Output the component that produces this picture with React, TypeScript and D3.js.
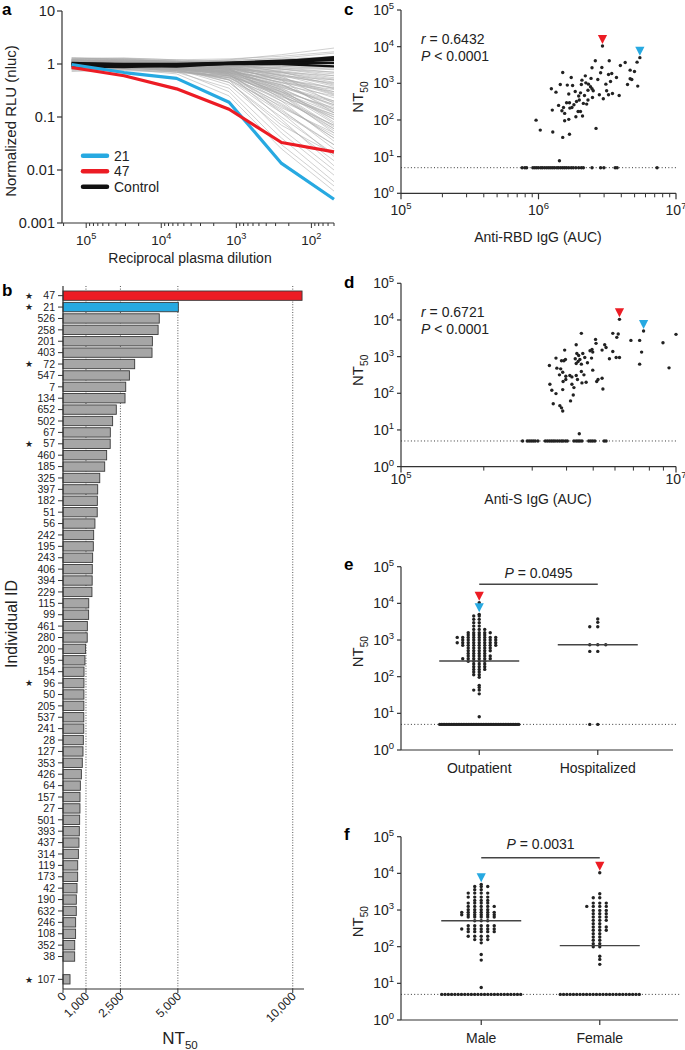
import React, { useEffect } from "react";
import * as d3 from "d3";

const FONT = "'Liberation Sans', Arial, Helvetica, sans-serif";
const RED = "#ec1c24";
const BLUE = "#27a9e1";
const INK = "#222";
const AXIS = "#333";
const LOD = 5;

// ---- a: neutralization curves ----
const aDilutions = [156250, 31250, 6250, 1250, 250, 50];
const aCurve21 = [0.97, 0.69, 0.535, 0.19, 0.0133, 0.0028];
const aCurve47 = [0.86, 0.6, 0.34, 0.14, 0.033, 0.022];
const aControlCurves = [
  [1.05, 0.98, 0.95, 1.05, 1.12, 1.35],
  [0.95, 0.92, 0.9, 1.02, 1.08, 1.2],
  [1.0, 0.95, 0.98, 1.04, 1.05, 1.05],
  [0.9, 0.88, 0.95, 1.0, 1.0, 0.9],
  [1.02, 1.0, 1.0, 1.06, 1.15, 1.25],
];
const aGrayCurves = [
  [1.2, 1.25, 1.1, 1.2, 1.5, 2.0],
  [1.1, 1.15, 1.05, 1.15, 1.3, 1.6],
  [1.0, 1.1, 1.0, 1.1, 1.2, 1.4],
  [0.9, 1.0, 0.95, 1.05, 1.1, 1.2],
  [1.3, 1.2, 1.1, 1.0, 0.9, 0.85],
  [1.1, 1.0, 1.0, 0.95, 0.8, 0.7],
  [0.95, 1.0, 0.9, 0.85, 0.6, 0.5],
  [1.2, 1.1, 1.0, 0.9, 0.5, 0.35],
  [1.0, 0.95, 0.9, 0.8, 0.4, 0.25],
  [0.85, 0.9, 0.85, 0.7, 0.3, 0.15],
  [1.1, 1.05, 0.95, 0.75, 0.25, 0.1],
  [0.9, 0.85, 0.8, 0.6, 0.2, 0.07],
  [1.0, 1.0, 0.9, 0.65, 0.15, 0.05],
  [1.2, 1.1, 1.0, 0.7, 0.12, 0.03],
  [0.8, 0.85, 0.75, 0.5, 0.1, 0.02],
  [1.05, 1.0, 0.85, 0.45, 0.08, 0.015],
  [0.95, 0.9, 0.8, 0.4, 0.06, 0.01],
  [1.1, 1.0, 0.9, 0.5, 0.05, 0.008],
  [0.9, 0.9, 0.7, 0.35, 0.04, 0.006],
  [1.0, 0.95, 0.75, 0.3, 0.03, 0.005],
  [0.85, 0.8, 0.65, 0.25, 0.025, 0.004],
  [1.15, 1.1, 0.95, 0.8, 0.35, 0.12],
  [1.0, 1.05, 0.95, 0.9, 0.7, 0.45],
  [0.9, 0.95, 0.9, 0.8, 0.55, 0.3],
  [1.25, 1.2, 1.1, 1.0, 0.8, 0.6],
  [1.05, 1.1, 1.05, 1.0, 0.95, 0.9],
  [0.8, 0.85, 0.8, 0.75, 0.45, 0.2],
  [0.75, 0.8, 0.7, 0.55, 0.18, 0.04],
  [1.3, 1.25, 1.15, 0.85, 0.22, 0.06],
  [0.95, 0.9, 0.85, 0.6, 0.28, 0.09],
  [1.1, 1.1, 1.0, 0.95, 0.6, 0.18],
  [1.0, 0.95, 0.9, 0.85, 0.5, 0.12],
  [0.9, 0.85, 0.75, 0.55, 0.14, 0.025],
  [1.15, 1.1, 1.0, 0.65, 0.09, 0.012],
  [0.85, 0.9, 0.8, 0.45, 0.07, 0.02],
  [1.05, 1.0, 0.95, 0.7, 0.2, 0.035],
  [0.95, 1.0, 1.0, 0.9, 0.75, 0.55],
  [1.2, 1.15, 1.1, 1.05, 1.0, 1.1],
  [1.0, 0.9, 0.8, 0.7, 0.4, 0.16],
  [0.9, 0.9, 0.85, 0.75, 0.33, 0.08],
  [0.8, 0.75, 0.7, 0.6, 0.3, 0.1],
  [1.1, 1.05, 1.0, 0.85, 0.42, 0.14],
  [0.95, 0.95, 0.85, 0.5, 0.16, 0.045],
  [1.0, 1.0, 0.95, 0.85, 0.65, 0.38],
  [0.85, 0.85, 0.8, 0.7, 0.5, 0.26],
  [1.15, 1.2, 1.15, 1.1, 1.05, 1.0],
  [0.9, 0.9, 0.8, 0.55, 0.22, 0.07],
  [1.05, 1.05, 0.95, 0.8, 0.26, 0.05],
  [1.0, 1.05, 1.0, 0.95, 0.85, 0.7],
  [0.88, 0.92, 0.88, 0.82, 0.62, 0.42],
  [1.08, 1.0, 0.92, 0.72, 0.36, 0.19],
  [0.97, 0.93, 0.84, 0.62, 0.24, 0.11],
  [1.12, 1.08, 1.02, 0.88, 0.48, 0.23],
  [0.82, 0.86, 0.78, 0.64, 0.34, 0.13],
  [1.02, 0.98, 0.88, 0.58, 0.13, 0.03],
  [0.92, 0.96, 0.92, 0.86, 0.68, 0.5],
  [1.25, 1.3, 1.2, 1.25, 1.4, 1.7],
  [1.15, 1.2, 1.12, 1.18, 1.25, 1.35],
  [0.78, 0.82, 0.76, 0.68, 0.4, 0.17],
  [0.72, 0.78, 0.72, 0.6, 0.26, 0.06],
  [1.3, 1.28, 1.2, 1.05, 0.7, 0.4],
  [1.18, 1.12, 1.05, 0.92, 0.55, 0.28],
  [0.98, 1.02, 0.96, 0.78, 0.3, 0.075],
  [0.88, 0.86, 0.76, 0.52, 0.12, 0.018],
  [1.06, 1.02, 0.9, 0.62, 0.17, 0.04],
  [0.94, 0.9, 0.82, 0.68, 0.38, 0.2],
  [1.22, 1.16, 1.08, 0.96, 0.72, 0.52],
  [0.83, 0.88, 0.84, 0.8, 0.7, 0.6],
  [1.04, 1.08, 1.06, 1.02, 0.98, 0.98],
  [0.9, 0.94, 0.92, 0.9, 0.85, 0.78],
  [1.12, 1.06, 0.96, 0.78, 0.44, 0.3],
  [0.96, 0.92, 0.86, 0.74, 0.45, 0.33],
  [1.0, 0.97, 0.9, 0.66, 0.32, 0.14],
  [0.86, 0.82, 0.74, 0.57, 0.27, 0.11],
  [1.14, 1.1, 1.04, 0.92, 0.62, 0.34],
  [0.8, 0.83, 0.79, 0.72, 0.52, 0.36],
  [1.08, 1.12, 1.08, 1.0, 0.9, 0.8],
  [0.93, 0.98, 0.96, 0.92, 0.8, 0.65],
  [1.18, 1.14, 1.04, 0.82, 0.32, 0.09],
  [0.99, 0.96, 0.88, 0.7, 0.27, 0.065],
  [0.87, 0.9, 0.83, 0.66, 0.23, 0.055],
  [1.03, 1.0, 0.93, 0.77, 0.37, 0.17],
  [0.91, 0.88, 0.8, 0.64, 0.29, 0.12],
  [1.09, 1.04, 0.97, 0.83, 0.52, 0.27],
  [0.84, 0.87, 0.82, 0.76, 0.58, 0.44],
  [1.16, 1.18, 1.12, 1.08, 1.02, 1.15],
];
const aYTicks = [10, 1, 0.1, 0.01, 0.001];
const aYLabels = ["10", "1", "0.1", "0.01", "0.001"];
const aLegend = [
  { label: "21", color: BLUE },
  { label: "47", color: RED },
  { label: "Control", color: "#111" },
];

// ---- b: NT50 per individual ----
const bIds = [
  47, 21, 526, 258, 201, 403, 72, 547, 7, 134, 652, 502, 67, 57, 460, 185, 325, 397, 182, 51,
  56, 242, 195, 243, 406, 394, 229, 115, 99, 461, 280, 200, 95, 154, 96, 50, 205, 537, 241, 28,
  127, 353, 426, 64, 157, 27, 501, 393, 437, 314, 119, 173, 42, 190, 632, 246, 108, 352, 38, 107,
];
const bValues = [
  10405, 5020, 4190, 4140, 3890, 3875, 3120, 2890, 2730, 2700, 2320, 2160, 2060, 2055, 1900, 1815,
  1600, 1510, 1495, 1490, 1390, 1335, 1320, 1290, 1275, 1270, 1260, 1120, 1115, 1060, 1055, 985,
  955, 915, 912, 910, 908, 905, 903, 885, 870, 840, 800, 755, 740, 738, 725, 710, 695, 670, 640,
  638, 610, 580, 578, 550, 548, 510, 508, 305,
];
const bStarred = [47, 21, 72, 57, 96, 107];
const bGrid = [1000, 2500, 5000, 10000];
const bTicks = [0, 1000, 2500, 5000, 10000];

// ---- c: anti-RBD IgG vs NT50 ----
const cPoints = [
  [2.59e6, 4110], [3.27e6, 4110], [3.94e6, 3070], [4.27e6, 3700], [5.21e6, 3780], [1.5e6, 1980],
  [2.45e6, 2650], [2.89e6, 2700], [2.83e6, 1940], [2.19e6, 1600], [4.64e6, 2290], [4.99e6, 2100],
  [1.73e6, 1445], [2.07e6, 1220], [2.41e6, 1360], [2.7e6, 1275], [3.23e6, 1745], [3.41e6, 1860],
  [3.69e6, 1445], [3.34e6, 1125], [3.09e6, 950], [4.64e6, 1330], [4.77e6, 1275], [5.27e6, 840],
  [4.44e6, 930], [1.44e6, 930], [1.62e6, 895], [1.77e6, 875], [2.05e6, 930], [2.21e6, 1030],
  [2.31e6, 950], [2.39e6, 805], [2.45e6, 710], [2.5e6, 625], [2.29e6, 650], [1.24e6, 710],
  [1.34e6, 575], [1.66e6, 510], [1.85e6, 600], [2.02e6, 550], [1.96e6, 450], [2.16e6, 465],
  [2.77e6, 490], [2.96e6, 380], [3.13e6, 625], [3.23e6, 490], [3.45e6, 530], [3.86e6, 465],
  [2.29e6, 350], [2.47e6, 410], [1.4e6, 250], [1.52e6, 220], [1.6e6, 295], [1.68e6, 295],
  [1.75e6, 220], [1.81e6, 260], [1.89e6, 320], [1.98e6, 350], [2.12e6, 283], [2.24e6, 271],
  [1.26e6, 186], [1.48e6, 179], [1.55e6, 151], [1.69e6, 211], [1.94e6, 171], [2.02e6, 171],
  [2.09e6, 128], [1.87e6, 122], [1.66e6, 104], [1.55e6, 95], [9.6e5, 99], [1.03e6, 53],
  [1.27e6, 47], [1.5e6, 33.5], [1.68e6, 41], [2.62e6, 59], [1.42e6, 7.7],
];
const cLowAuc = [
  7.6e5, 7.96e5, 8.2e5, 9.1e5, 9.4e5, 9.7e5, 1.0e6, 1.04e6, 1.07e6, 1.11e6, 1.15e6, 1.19e6,
  1.23e6, 1.27e6, 1.31e6, 1.36e6, 1.4e6, 1.45e6, 1.5e6, 1.55e6, 1.6e6, 1.66e6, 1.73e6, 1.79e6,
  1.87e6, 1.96e6, 2.05e6, 2.12e6, 2.45e6, 2.83e6, 2.99e6, 3.61e6, 3.73e6, 7.28e6,
];
const cRed = [2.92e6, 10405];
const cBlue = [5.46e6, 5020];
const cStats = ["0.6432", "< 0.0001"];

// ---- d: anti-S IgG vs NT50 ----
const dPoints = [
  [2.05e6, 4310], [3.47e6, 4310], [3.8e6, 4130], [3.71e6, 3350], [4.7e6, 2770], [5.44e6, 2770],
  [8.04e6, 2390], [1.0e7, 4050], [2.6e6, 2950], [2.62e6, 2300], [3.03e6, 2110], [3.1e6, 1780],
  [1.88e6, 2110], [2.45e6, 1570], [2.37e6, 1445], [2.48e6, 1330], [2.9e6, 1505], [3.47e6, 1385],
  [3.67e6, 950], [3.88e6, 950], [3.28e6, 873], [5.62e6, 1330], [5.44e6, 624], [8.9e6, 494],
  [1.55e6, 1505], [1.9e6, 1220], [1.96e6, 1075], [2.1e6, 1220], [2.17e6, 950], [2.0e6, 836],
  [1.94e6, 738], [1.88e6, 650], [2.05e6, 624], [2.27e6, 678], [2.43e6, 910], [1.34e6, 910],
  [1.47e6, 769], [1.53e6, 769], [1.57e6, 836], [1.85e6, 873], [1.2e6, 573], [1.36e6, 484],
  [1.45e6, 464], [1.5e6, 376], [1.42e6, 318], [1.58e6, 292], [1.69e6, 305], [1.75e6, 280],
  [1.88e6, 305], [1.92e6, 237], [1.58e6, 237], [1.51e6, 209], [1.75e6, 177], [1.81e6, 143],
  [2.07e6, 192], [2.22e6, 200], [2.71e6, 237], [2.9e6, 258], [2.65e6, 209], [2.48e6, 427],
  [2.94e6, 131], [1.21e6, 177], [1.25e6, 121], [1.34e6, 98], [1.5e6, 126], [1.79e6, 90],
  [1.71e6, 62], [1.28e6, 52], [1.43e6, 46], [1.47e6, 40], [1.5e6, 33], [2.14e6, 318],
  [2.05e6, 393], [1.98e6, 7.9],
];
const dLowAuc = [
  7.66e5, 8.28e5, 8.56e5, 8.85e5, 9.15e5, 9.46e5, 9.9e5, 1.12e6, 1.16e6, 1.2e6, 1.24e6, 1.28e6,
  1.32e6, 1.37e6, 1.42e6, 1.47e6, 1.51e6, 1.57e6, 1.62e6, 1.81e6, 1.88e6, 1.94e6, 2.0e6, 2.07e6,
  2.32e6, 2.4e6, 2.48e6, 2.57e6, 3.0e6, 3.1e6,
];
const dRed = [3.88e6, 10405];
const dBlue = [5.81e6, 5020];
const dStats = ["0.6721", "< 0.0001"];
const dMinorTicks = [4e5, 9e5, 1.6e6, 2.5e6, 3.6e6, 4.9e6, 6.4e6, 8.1e6];

// ---- e: outpatient vs hospitalized ----
const eGroups = ["Outpatient", "Hospitalized"];
const eOutpatient = [
  10405, 5020,
  4500, 4500, 3660, 3660, 2970, 2970, 2400, 2400,
  1950, 1950, 1950, 1585, 1585, 1585, 1585, 1585,
  1370, 1370, 1370, 1370,
  1180, 1180, 1180, 1180, 1180, 1180, 1180, 1180,
  1000, 1000, 1000, 1000, 1000, 1000, 1000,
  845, 845, 845, 845, 845, 845, 845, 845,
  715, 715, 715, 715, 715, 715, 715,
  604, 604, 604, 604, 604,
  511, 511, 511, 511, 511,
  432, 432, 432, 432,
  366, 366, 366, 366, 366,
  309, 309, 309, 309, 309, 309,
  262, 262, 262, 262,
  221, 221, 221, 187, 187, 187, 158, 158, 158,
  134, 134, 113, 113, 96, 58, 51, 43, 43, 34, 8.1,
  5, 5, 5, 5, 5, 5, 5, 5, 5, 5, 5, 5,
  5, 5, 5, 5, 5, 5, 5, 5, 5, 5, 5, 5,
  5, 5, 5, 5, 5, 5, 5, 5, 5, 5, 5, 5,
  5, 5, 5, 5, 5, 5, 5, 5, 5, 5, 5, 5,
];
const eHospitalized = [3730, 3030, 2300, 2300, 745, 745, 745, 490, 490, 5, 5];
const eMedians = [267, 741];
const eP = "0.0495";

// ---- f: male vs female ----
const fGroups = ["Male", "Female"];
const fMale = [
  5020, 4390, 4390, 4390, 3560, 3560,
  2890, 2890, 2890, 2890, 2250, 2250, 2250, 2250,
  1830, 1830, 1830, 1545, 1545, 1545, 1545,
  1255, 1255, 1255, 1255, 1255, 1020, 1020, 1020, 1020,
  863, 863, 863, 863, 863, 863, 745, 745, 745, 745, 745, 745,
  644, 644, 644, 644, 644, 512, 512, 512,
  374, 374, 374, 374, 374, 304, 304, 304, 304, 304, 304,
  257, 257, 257, 257, 257, 192, 192, 192, 192, 156, 156, 156,
  127, 61, 43, 7.7,
  5, 5, 5, 5, 5, 5, 5, 5, 5, 5, 5, 5, 5,
  5, 5, 5, 5, 5, 5, 5, 5, 5, 5, 5, 5,
];
const fFemale = [
  10405, 2770, 2160, 2160, 1545, 1545, 1545, 1255, 1255, 1255, 1255,
  977, 977, 977, 795, 795, 795, 644, 644, 644, 523, 523, 523,
  425, 425, 344, 344, 344, 280, 280, 280, 227, 227, 184, 184,
  150, 150, 121, 121, 99, 99, 55, 45, 33,
  5, 5, 5, 5, 5, 5, 5, 5, 5, 5, 5, 5, 5,
  5, 5, 5, 5, 5, 5, 5, 5, 5, 5, 5, 5,
];
const fMedians = [512, 107];
const fP = "0.0031";

function Pow10({ x, y, exp, anchor = "middle", size = 14 }: any) {
  return (
    <text x={x} y={y} textAnchor={anchor} fontSize={size} fill={INK}>
      10<tspan dy={-size * 0.42} fontSize={size * 0.68}>{exp}</tspan>
    </text>
  );
}

function NT50({ x, y, size = 15, rotate = false }: any) {
  return (
    <text
      transform={`translate(${x},${y})${rotate ? " rotate(-90)" : ""}`}
      textAnchor="middle"
      fontSize={size}
      fill={INK}
    >
      NT<tspan dy={size * 0.3} fontSize={size * 0.68}>50</tspan>
    </text>
  );
}

function Triangle({ x, y, color }: any) {
  return <path d={`M${x - 4.6},${y - 11} L${x + 4.6},${y - 11} L${x},${y - 2} Z`} fill={color} />;
}

function PanelA() {
  const x = d3.scaleLog().domain([2.1e5, 50]).range([62, 334]);
  const y = d3.scaleLog().domain([0.001, 10]).range([223, 11]);
  const line = d3
    .line<number>()
    .x((_, i) => x(aDilutions[i]))
    .y((v) => y(v));
  const isMajor = (v: number) => Math.abs(Math.log10(v) - Math.round(Math.log10(v))) < 1e-9;
  return (
    <g>
      <text x={2} y={15} fontSize={17} fontWeight="bold">a</text>
      {aGrayCurves.map((c, i) => (
        <path key={"g" + i} d={line(c) || ""} fill="none" stroke="#a9a9a9" strokeWidth={0.55} />
      ))}
      {aControlCurves.map((c, i) => (
        <path key={"k" + i} d={line(c) || ""} fill="none" stroke="#111" strokeWidth={2.4} />
      ))}
      <path d={line(aCurve21) || ""} fill="none" stroke={BLUE} strokeWidth={3.2} strokeLinejoin="round" />
      <path d={line(aCurve47) || ""} fill="none" stroke={RED} strokeWidth={3.2} strokeLinejoin="round" />
      <line x1={62} x2={62} y1={11} y2={223} stroke={AXIS} strokeWidth={1.2} />
      <line x1={62} x2={334} y1={223} y2={223} stroke={AXIS} strokeWidth={1.2} />
      {aYTicks.map((v, i) => (
        <g key={"yt" + i}>
          <line x1={57} x2={62} y1={y(v)} y2={y(v)} stroke={AXIS} strokeWidth={1.2} />
          <text x={55} y={y(v) + 5} textAnchor="end" fontSize={14.5} fill={INK}>{aYLabels[i]}</text>
        </g>
      ))}
      {x.ticks().map((v, i) => (
        <line key={"xt" + i} x1={x(v)} x2={x(v)} y1={223} y2={223 + (isMajor(v) ? 5 : 3)} stroke={AXIS} strokeWidth={1} />
      ))}
      {x.ticks().filter(isMajor).map((v, i) => (
        <Pow10 key={"xl" + i} x={x(v)} y={245} exp={Math.round(Math.log10(v))} size={13.5} />
      ))}
      <text x={190} y={263} textAnchor="middle" fontSize={14} fill={INK}>Reciprocal plasma dilution</text>
      <text transform="translate(16,121) rotate(-90)" textAnchor="middle" fontSize={15} fill={INK}>
        Normalized RLU (nluc)
      </text>
      {aLegend.map((l, i) => (
        <g key={"lg" + i} transform={`translate(0,${155.7 + i * 15.5})`}>
          <line x1={83} x2={107} stroke={l.color} strokeWidth={4.5} strokeLinecap="round" />
          <text x={114} y={5} fontSize={14} fill={INK}>{l.label}</text>
        </g>
      ))}
    </g>
  );
}

function PanelB() {
  const slots = [...bIds.slice(0, -1).map(String), "gap", String(bIds[bIds.length - 1])];
  const y = d3.scaleBand().domain(slots).range([291, 984]).paddingInner(0.18);
  const x = d3.scaleLinear().domain([0, 10490]).range([63, 304]);
  const fmt = d3.format(",");
  const bw = y.bandwidth();
  return (
    <g>
      <text x={2} y={296} fontSize={17} fontWeight="bold">b</text>
      {bGrid.map((v) => (
        <line key={"gr" + v} x1={x(v)} x2={x(v)} y1={286} y2={989} stroke="#444" strokeWidth={0.9} strokeDasharray="1 1.6" />
      ))}
      {bIds.map((id, i) => {
        const yy = y(String(id)) as number;
        const fill = id === 47 ? RED : id === 21 ? BLUE : "#a6a6a6";
        return (
          <g key={"bar" + id}>
            <rect x={x(0)} y={yy} width={x(bValues[i]) - x(0)} height={bw} fill={fill} stroke="#3a3a3a" strokeWidth={0.9} />
            <line x1={58} x2={63} y1={yy + bw / 2} y2={yy + bw / 2} stroke={AXIS} strokeWidth={1} />
            <text x={55} y={yy + bw / 2 + 3.7} textAnchor="end" fontSize={10.5} fill={INK}>{id}</text>
            {bStarred.includes(id) && (
              <text x={29} y={yy + bw / 2 + 3.3} textAnchor="middle" fontSize={9} fill={INK}>★</text>
            )}
          </g>
        );
      })}
      <line x1={63} x2={63} y1={286} y2={989} stroke={AXIS} strokeWidth={1.2} />
      <line x1={63} x2={304} y1={989} y2={989} stroke={AXIS} strokeWidth={1.2} />
      {bTicks.map((v) => (
        <g key={"bt" + v}>
          <line x1={x(v)} x2={x(v)} y1={989} y2={993} stroke={AXIS} strokeWidth={1} />
          <text transform={`translate(${x(v) + 4},${997}) rotate(-45)`} textAnchor="end" fontSize={12} fill={INK}>
            {fmt(v)}
          </text>
        </g>
      ))}
      <NT50 x={180} y={1044} size={17} />
      <text transform="translate(17,624) rotate(-90)" textAnchor="middle" fontSize={16} fill={INK}>Individual ID</text>
    </g>
  );
}

function CorrPanel({ letter, top, points, lowAuc, red, blue, minorTicks, majorTicks, stats, xTitle, tickY, titleY }: any) {
  const bottom = top + 183.3;
  const x = d3.scaleLog().domain([1e5, 1e7]).range([401, 676]);
  const y = d3.scaleLog().domain([1, 1e5]).range([bottom, top]);
  const yTicks = [1, 10, 100, 1000, 10000, 100000];
  return (
    <g>
      <text x={344} y={top + 5} fontSize={17} fontWeight="bold">{letter}</text>
      <line x1={401} x2={678} y1={y(LOD)} y2={y(LOD)} stroke={INK} strokeWidth={0.9} strokeDasharray="1 2.3" />
      {lowAuc.map((a: number, i: number) => (
        <circle key={"l" + i} cx={x(a)} cy={y(LOD)} r={1.7} fill={INK} />
      ))}
      {points.map((p: number[], i: number) => (
        <circle key={"p" + i} cx={x(p[0])} cy={y(p[1])} r={1.7} fill={INK} />
      ))}
      {[red, blue].map((p: number[], i: number) => (
        <g key={"h" + i}>
          <circle cx={x(p[0])} cy={y(p[1])} r={1.7} fill={INK} />
          <Triangle x={x(p[0])} y={y(p[1])} color={i === 0 ? RED : BLUE} />
        </g>
      ))}
      <line x1={401} x2={401} y1={top} y2={bottom} stroke={AXIS} strokeWidth={1.2} />
      <line x1={401} x2={676} y1={bottom} y2={bottom} stroke={AXIS} strokeWidth={1.2} />
      {yTicks.map((v) => (
        <g key={"yt" + v}>
          <line x1={397} x2={401} y1={y(v)} y2={y(v)} stroke={AXIS} strokeWidth={1.2} />
          <Pow10 x={394} y={y(v) + 5} exp={Math.round(Math.log10(v))} anchor="end" size={14} />
        </g>
      ))}
      {minorTicks.map((v: number, i: number) => (
        <line key={"mt" + i} x1={x(v)} x2={x(v)} y1={bottom} y2={bottom + 4} stroke={AXIS} strokeWidth={1} />
      ))}
      {majorTicks.map((v: number) => (
        <g key={"xt" + v}>
          <line x1={x(v)} x2={x(v)} y1={bottom} y2={bottom + 6} stroke={AXIS} strokeWidth={1.2} />
          <Pow10 x={x(v)} y={tickY} exp={Math.round(Math.log10(v))} size={14} />
        </g>
      ))}
      <NT50 x={363} y={top + 87} size={15} rotate />
      <text x={421} y={top + 34} fontSize={14} fill={INK}>
        <tspan fontStyle="italic">r</tspan> = {stats[0]}
      </text>
      <text x={421} y={top + 51} fontSize={14} fill={INK}>
        <tspan fontStyle="italic">P</tspan> {stats[1]}
      </text>
      <text x={538} y={titleY} textAnchor="middle" fontSize={14} fill={INK}>{xTitle}</text>
    </g>
  );
}

// lay out dots of one group in rows: equal values share a row
function rowLayout(values: number[], cx: number, spacing: number, maxW: number) {
  const out: { x: number; v: number }[] = [];
  for (const [v, arr] of d3.group(values, (d) => d)) {
    const n = arr.length;
    if ((n - 1) * spacing <= maxW) {
      arr.forEach((_, i) => {
        const k = i === 0 ? 0 : i % 2 === 1 ? -Math.ceil(i / 2) : i / 2;
        out.push({ x: cx + k * spacing, v });
      });
    } else {
      const s = maxW / (n - 1);
      arr.forEach((_, i) => out.push({ x: cx + (i - (n - 1) / 2) * s, v }));
    }
  }
  return out;
}

function GroupPanel({ letter, top, cats, series, spacings, medians, pValue, range, axisEnd, pDy, bracketDy }: any) {
  const bottom = top + 183.3;
  const y = d3.scaleLog().domain([1, 1e5]).range([bottom, top]);
  const x = d3.scalePoint().domain(cats).range(range).padding(0.66);
  const yTicks = [1, 10, 100, 1000, 10000, 100000];
  const c0 = x(cats[0]) as number;
  const c1 = x(cats[1]) as number;
  return (
    <g>
      <text x={344} y={top + 3} fontSize={17} fontWeight="bold">{letter}</text>
      <line x1={401} x2={axisEnd + 3} y1={y(LOD)} y2={y(LOD)} stroke={INK} strokeWidth={0.9} strokeDasharray="1 2.3" />
      {cats.map((cat: string, gi: number) => {
        const cx = x(cat) as number;
        const pts = rowLayout(series[gi], cx, spacings[gi], 79);
        return (
          <g key={cat}>
            {pts.map((p, i) => (
              <circle key={i} cx={p.x} cy={y(p.v)} r={1.7} fill={INK} />
            ))}
            <line x1={cx - 40} x2={cx + 40} y1={y(medians[gi])} y2={y(medians[gi])} stroke="#444" strokeWidth={1.4} />
            {pts
              .filter((p) => p.v === 10405 || p.v === 5020)
              .map((p, i) => (
                <Triangle key={"t" + i} x={p.x} y={y(p.v)} color={p.v === 10405 ? RED : BLUE} />
              ))}
            <line x1={cx} x2={cx} y1={bottom} y2={bottom + 5} stroke={AXIS} strokeWidth={1.2} />
            <text x={cx} y={bottom + 23} textAnchor="middle" fontSize={14} fill={INK}>{cat}</text>
          </g>
        );
      })}
      <line x1={c0} x2={c1} y1={top + bracketDy} y2={top + bracketDy} stroke="#444" strokeWidth={1.4} />
      <text x={(c0 + c1) / 2} y={top + pDy} textAnchor="middle" fontSize={14} fill={INK}>
        <tspan fontStyle="italic">P</tspan> = {pValue}
      </text>
      <line x1={401} x2={401} y1={top} y2={bottom} stroke={AXIS} strokeWidth={1.2} />
      <line x1={401} x2={axisEnd} y1={bottom} y2={bottom} stroke={AXIS} strokeWidth={1.2} />
      {yTicks.map((v) => (
        <g key={"yt" + v}>
          <line x1={397} x2={401} y1={y(v)} y2={y(v)} stroke={AXIS} strokeWidth={1.2} />
          <Pow10 x={394} y={y(v) + 5} exp={Math.round(Math.log10(v))} anchor="end" size={14} />
        </g>
      ))}
      <NT50 x={363} y={top + 85} size={15} rotate />
    </g>
  );
}

export default function App() {
  useEffect(() => {
    document.body.style.margin = "0";
  }, []);
  const cX = d3.scaleLog().domain([1e5, 1e7]);
  const cMinor = cX.ticks().filter((v) => Math.abs(Math.log10(v) - Math.round(Math.log10(v))) > 1e-9);
  return (
    <svg
      width={685}
      height={1050}
      style={{ position: "absolute", left: 0, top: 0, background: "#fff" }}
      fontFamily={FONT}
    >
      <rect width={685} height={1050} fill="#fff" />
      <PanelA />
      <PanelB />
      <CorrPanel
        letter="c"
        top={10}
        points={cPoints}
        lowAuc={cLowAuc}
        red={cRed}
        blue={cBlue}
        minorTicks={cMinor}
        majorTicks={[1e5, 1e6, 1e7]}
        stats={cStats}
        xTitle="Anti-RBD IgG (AUC)"
        tickY={215}
        titleY={242}
      />
      <CorrPanel
        letter="d"
        top={283.3}
        points={dPoints}
        lowAuc={dLowAuc}
        red={dRed}
        blue={dBlue}
        minorTicks={dMinorTicks}
        majorTicks={[1e5, 1e7]}
        stats={dStats}
        xTitle="Anti-S IgG (AUC)"
        tickY={484}
        titleY={504}
      />
      <GroupPanel
        letter="e"
        top={566.7}
        cats={eGroups}
        series={[eOutpatient, eHospitalized]}
        spacings={[5.5, 8]}
        medians={eMedians}
        pValue={eP}
        range={[401, 676]}
        axisEnd={673}
        pDy={11.5}
        bracketDy={17.6}
      />
      <GroupPanel
        letter="f"
        top={836.7}
        cats={fGroups}
        series={[fMale, fFemale]}
        spacings={[6.5, 6.5]}
        medians={fMedians}
        pValue={fP}
        range={[403, 678]}
        axisEnd={678}
        pDy={12.5}
        bracketDy={21}
      />
    </svg>
  );
}
